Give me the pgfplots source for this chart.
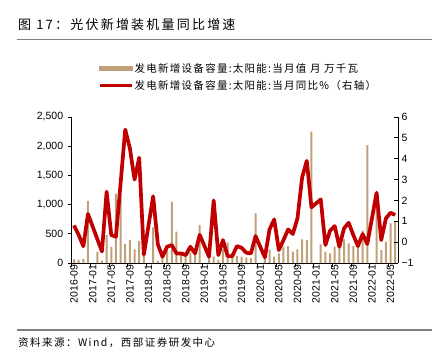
\documentclass[border=0pt]{standalone}
\usepackage{pgfplots}
\pgfplotsset{compat=1.18}
\usetikzlibrary{calc}
\usepackage{fontspec}
\setmainfont{Liberation Sans}
\newfontfamily\cjk{Noto Sans CJK SC}
\definecolor{bartan}{RGB}{192,160,120}
\definecolor{linered}{RGB}{192,0,0}
\begin{document}
\begin{tikzpicture}[x=1pt,y=1pt]
\begin{axis}[scale only axis,
  width=326.3pt, height=146pt,
  xmin=-0.5, xmax=69.6, ymin=0, ymax=2500,
  axis x line*=bottom, axis y line*=left,
  axis line style={black, line width=0.8pt},
  xtick={-0.5,3.5,...,67.5}, xticklabels={},
  extra x ticks={0,4,...,68},
  extra x tick labels={2016-09,2017-01,2017-05,2017-09,2018-01,2018-05,2018-09,2019-01,2019-05,2019-09,2020-01,2020-05,2020-09,2021-01,2021-05,2021-09,2022-01,2022-05},
  extra x tick style={major tick length=0pt, tick label style={rotate=90, anchor=east, inner sep=1pt, xshift=-0.5pt}},
  ytick={0,500,...,2500},
  tick align=outside, major tick length=4pt,
  tick style={black, line width=0.8pt},
  /pgf/number format/assume math mode=true,
  /pgf/number format/1000 sep={,},
  tick label style={font=\fontsize{10.5}{12}\selectfont},
  yticklabel style={xshift=-1pt},
]
\coordinate (LL) at (rel axis cs:0,0);
\addplot[ybar, bar width=2pt, fill=bartan, draw=none] coordinates {
(0,60)(1,55)(2,70)(3,1065)(5,190)(6,40)(7,480)(8,275)(9,1190)(10,1150)(11,325)(12,394)(13,234)(14,377)(15,470)(17,610)(18,36)(19,144)(20,218)(21,1050)(22,536)(23,150)(24,150)(25,183)(26,173)(27,650)(29,180)(30,108)(31,55)(32,240)(33,348)(34,177)(35,122)(36,110)(37,90)(38,80)(39,851)(41,166)(42,228)(43,108)(44,166)(45,280)(46,291)(47,194)(48,234)(49,406)(50,394)(51,2248)(53,320)(54,194)(55,165)(56,280)(57,337)(58,406)(59,337)(60,291)(61,299)(62,553)(63,2020)(65,1080)(66,222)(67,365)(68,680)(69,707)
};
\end{axis}
\begin{axis}[scale only axis,
  width=326.3pt, height=146pt,
  xmin=-0.5, xmax=69.6, ymin=-1, ymax=6,
  axis x line=none, axis y line*=right,
  axis line style={black, line width=0.8pt},
  ytick={-1,0,...,6},
  yticklabels={−1,0,1,2,3,4,5,6},
  tick align=inside, major tick length=4pt,
  tick style={black, line width=0.8pt},
  tick label style={font=\fontsize{10.5}{12}\selectfont},
  legend style={at={(axis description cs:0.0806,1.38)}, anchor=north west, draw=none, fill=none, inner sep=0pt, row sep=4pt, font=\cjk\fontsize{10.5}{12}\selectfont\addfontfeature{LetterSpace=12}, nodes={inner sep=1.5pt}},
  legend cell align=left,
]
\addlegendimage{legend image code/.code={\fill[bartan] (0pt,-2pt) rectangle (32pt,2pt);}}
\addlegendentry{发电新增设备容量:太阳能:当月值 月 万千瓦}
\addplot[linered, line width=3.7pt, line join=round, mark=none, legend image code/.code={\draw[linered, line width=3pt] (0pt,0pt) -- (32pt,0pt);}] coordinates {
(0,0.8)(1,0.35)(2,-0.2)(3,1.35)(5,0.15)(6,-0.45)(7,2.42)(8,0.34)(9,0.26)(10,2.8)(11,5.4)(12,4.5)(13,3.0)(14,4.05)(15,-0.6)(17,2.2)(18,-0.1)(19,-0.7)(20,-0.22)(21,-0.14)(22,-0.54)(23,-0.54)(24,-0.62)(25,-0.22)(26,-0.54)(27,0.35)(29,-0.7)(30,2.0)(31,-0.62)(32,0.1)(33,-0.67)(34,-0.67)(35,-0.19)(36,-0.27)(37,-0.51)(38,-0.54)(39,0.29)(41,-0.73)(42,0.61)(43,1.09)(44,-0.38)(45,0.10)(46,0.61)(47,0.39)(48,1.14)(49,3.1)(50,3.9)(51,1.67)(53,2.05)(54,-0.14)(55,0.55)(56,0.77)(57,-0.22)(58,0.66)(59,0.93)(60,0.34)(61,-0.19)(62,0.39)(63,-0.09)(65,2.37)(66,0.1)(67,1.14)(68,1.41)(69,1.3)
};
\addlegendentry{发电新增设备容量:太阳能:当月同比\%（右轴）}
\end{axis}
\pgfresetboundingbox
\path[use as bounding box] ($(LL)+(-71.7,-98)$) rectangle ++(444,361);
\node[anchor=west, inner sep=0] at ($(LL)+(-53.7,238)$) {\cjk\fontsize{13}{15}\selectfont\addfontfeature{LetterSpace=17}图 17：光伏新增装机量同比增速};
\draw[gray, line width=1.5] ($(LL)+(-54.7,223.5)$) -- ++(415,0);
\draw[gray, line width=1.2] ($(LL)+(-54.7,-67)$) -- ++(415,0);
\node[anchor=west, inner sep=0] at ($(LL)+(-53.7,-80)$) {\cjk\fontsize{10.5}{12}\selectfont\addfontfeature{LetterSpace=14}资料来源：Wind，西部证券研发中心};
\end{tikzpicture}
\end{document}
